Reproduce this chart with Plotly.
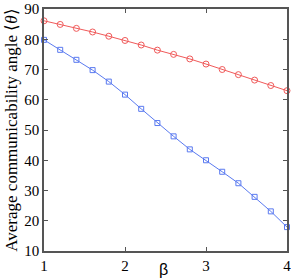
import plotly.graph_objects as go

beta = [1.0, 1.2, 1.4, 1.6, 1.8, 2.0, 2.2, 2.4, 2.6, 2.8, 3.0, 3.2, 3.4, 3.6, 3.8, 4.0]
red_vals = [86.1, 84.9, 83.6, 82.4, 81.0, 79.6, 78.1, 76.4, 75.0, 73.5, 71.8, 70.0, 68.3, 66.5, 64.7, 63.0]
blue_vals = [79.8, 76.5, 73.2, 69.8, 66.0, 61.7, 57.0, 52.3, 47.9, 43.6, 40.0, 36.2, 32.4, 27.9, 23.1, 17.9]
x_ticks = [1, 2, 3, 4]
y_ticks = [10, 20, 30, 40, 50, 60, 70, 80, 90]

serif = "Liberation Serif"

fig = go.Figure()
fig.add_trace(go.Scatter(x=beta, y=red_vals, mode="lines+markers",
                         line=dict(color="#f05a5a", width=1),
                         marker=dict(symbol="circle-open", size=6, color="#f05a5a", line=dict(width=1)),
                         cliponaxis=False))
fig.add_trace(go.Scatter(x=beta, y=blue_vals, mode="lines+markers",
                         line=dict(color="#5a7af0", width=1),
                         marker=dict(symbol="square-open", size=5, color="#5a7af0", line=dict(width=1)),
                         cliponaxis=False))

axis_common = dict(showgrid=False, zeroline=False, showline=True, linecolor="#555555", linewidth=1.5,
                   mirror="ticks", ticks="inside", ticklen=4, tickcolor="#555555", automargin=False,
                   ticklabeloverflow="allow",
                   tickfont=dict(family=serif, size=15, color="black"))
fig.update_xaxes(range=[1, 4], tickvals=x_ticks, ticktext=[str(t) for t in x_ticks], **axis_common)
fig.update_yaxes(range=[10, 90], tickvals=y_ticks, ticktext=[str(t) for t in y_ticks],
                 title=dict(text="Average communicability angle ⟨<i>θ</i>⟩",
                            font=dict(family=serif, size=17, color="black"), standoff=2),
                 **axis_common)
fig.add_annotation(text="β", xref="paper", yref="paper", x=0.49, y=-0.075, yanchor="middle",
                   showarrow=False, font=dict(family="Liberation Sans", size=16, color="black"))
fig.update_layout(width=291, height=279, margin=dict(l=44, r=4, t=9, b=28),
                  plot_bgcolor="white", paper_bgcolor="white", showlegend=False,
                  font=dict(family=serif))
fig.write_html("out.html", config={"displayModeBar": False},
               post_script="document.body.style.margin='0';document.body.style.overflow='hidden';")
